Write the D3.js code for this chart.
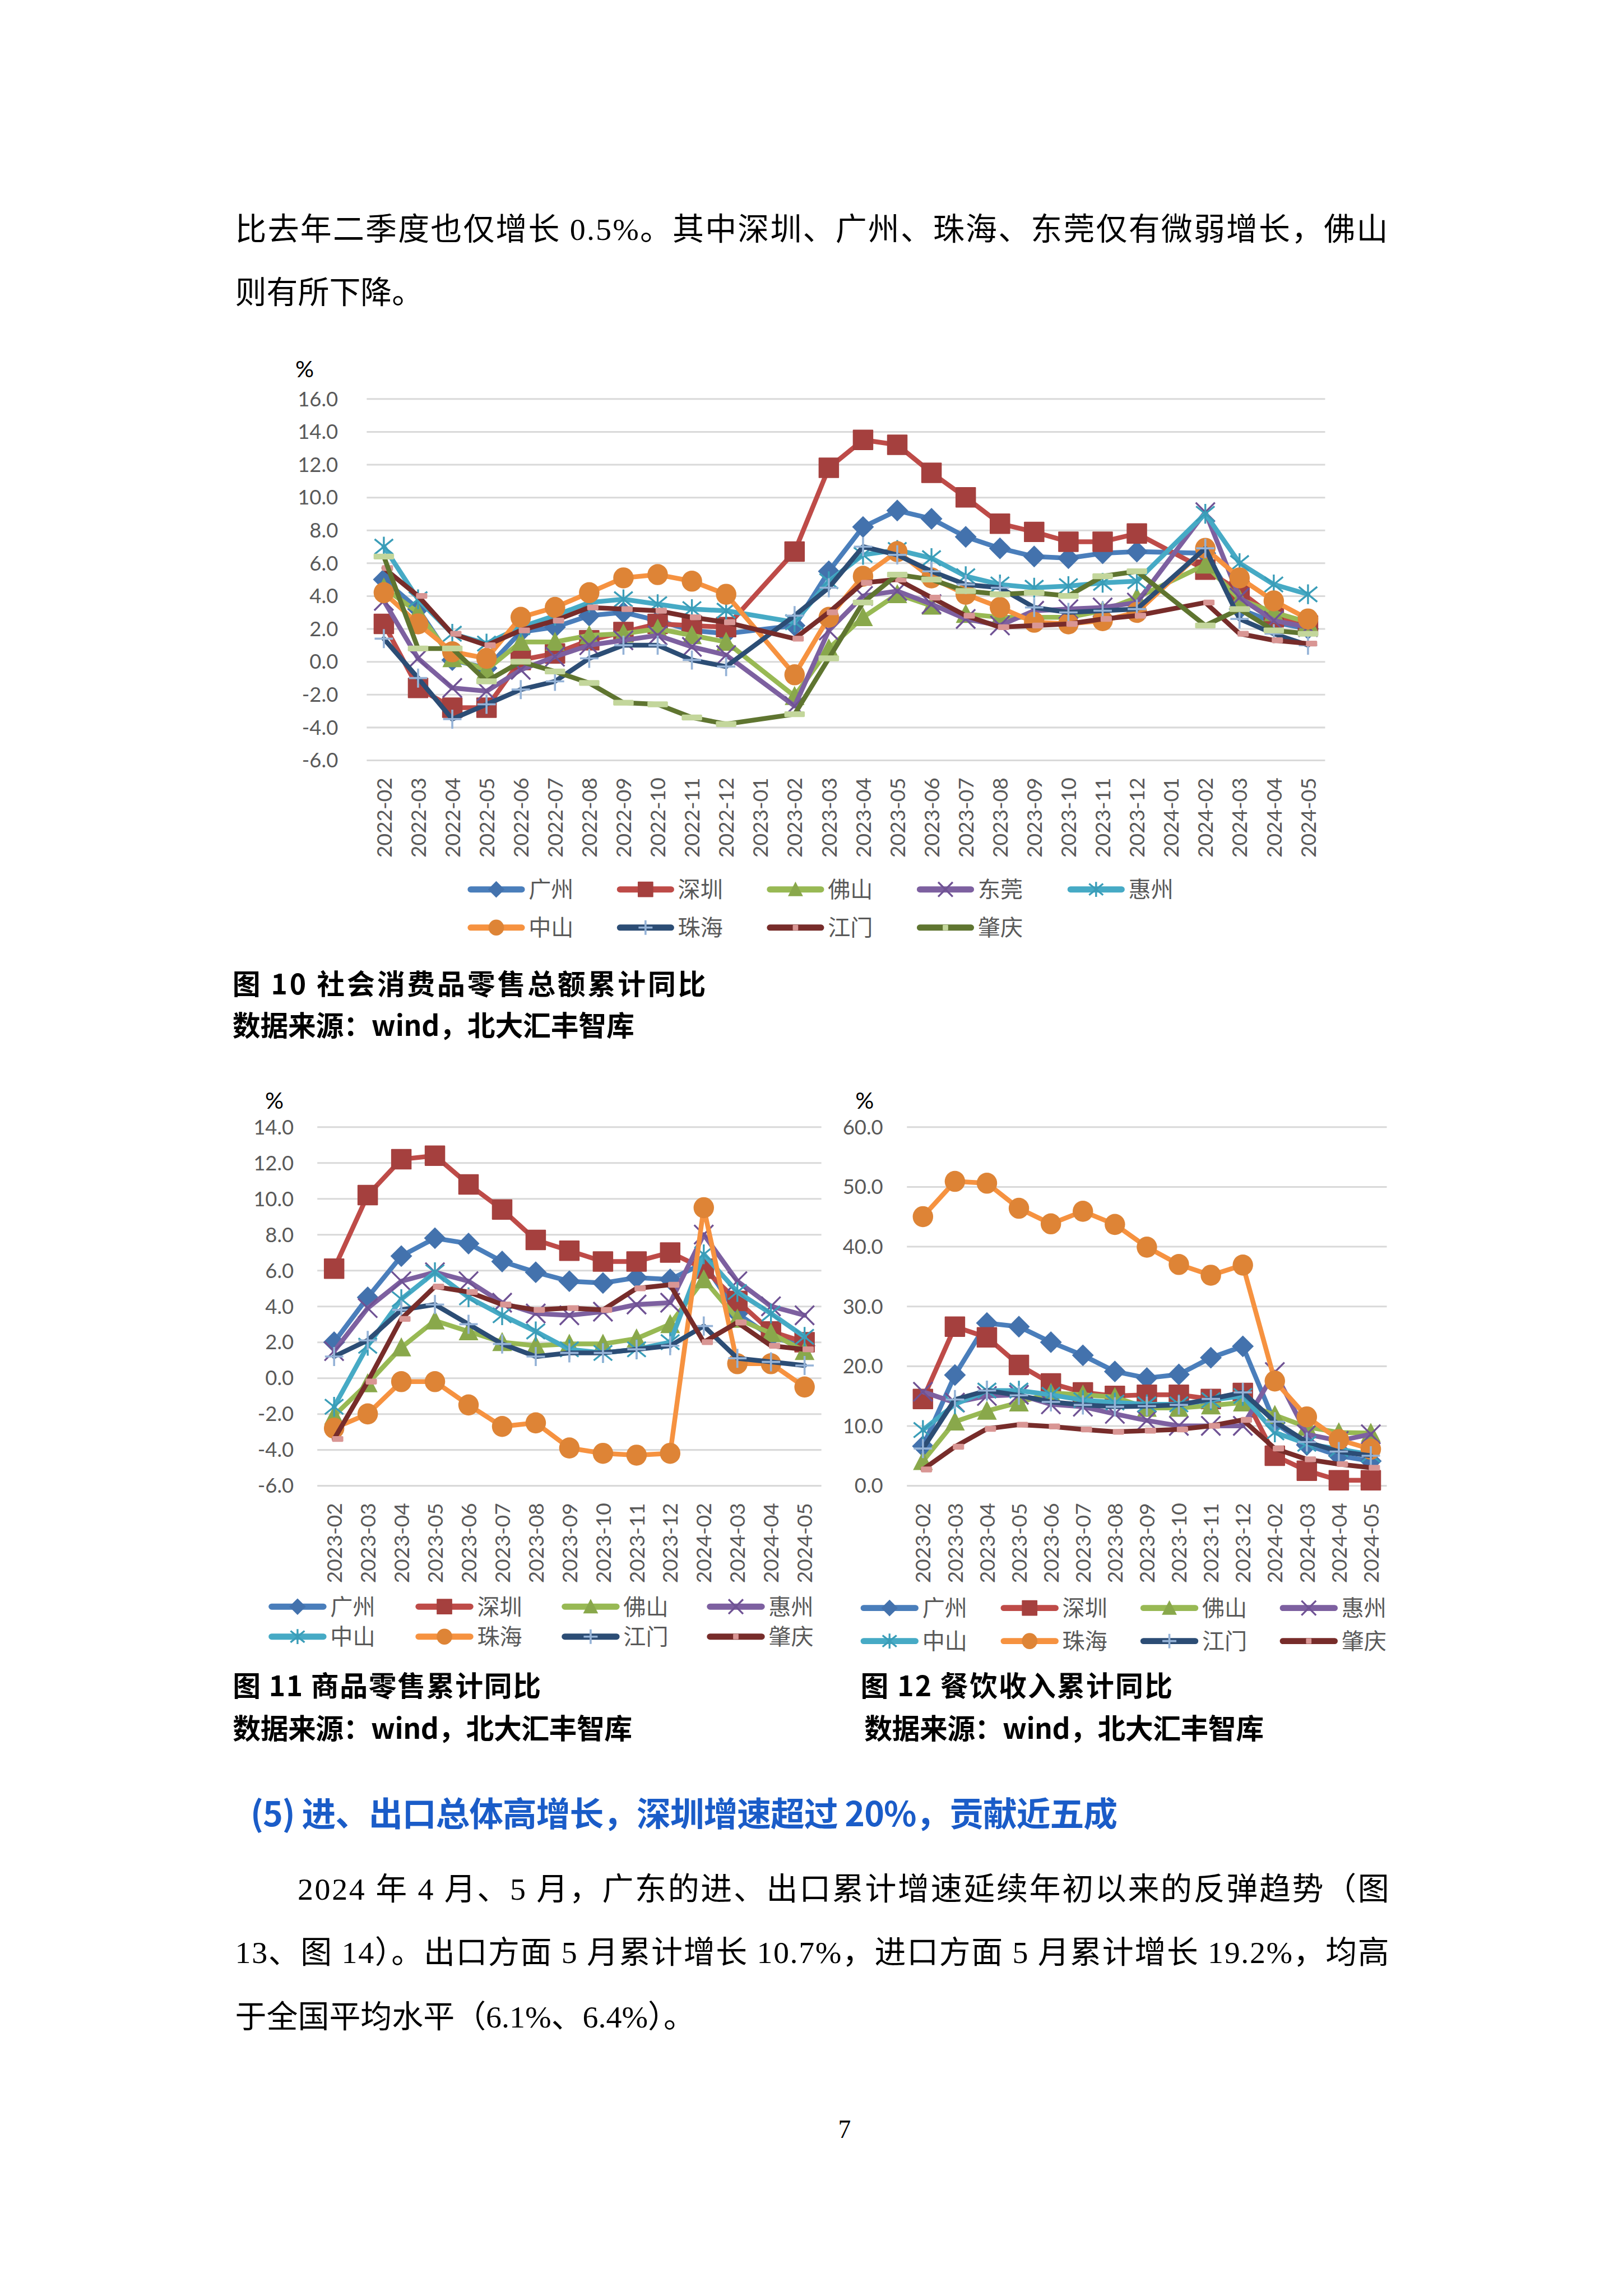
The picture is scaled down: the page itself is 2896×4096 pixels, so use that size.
<!DOCTYPE html>
<html>
<head>
<meta charset="utf-8">
<script src="https://cdn.jsdelivr.net/npm/d3@7"></script>
<style>
html,body{margin:0;padding:0;background:#ffffff;}
svg{display:block;}
</style>
</head>
<body>
<svg id="page" width="2896" height="4096"></svg>
<script>
// ---------------- DATA ----------------
// Figure 10: 社会消费品零售总额累计同比 (%), 2023-01 and 2024-01 not published
const months1 = ["2022-02","2022-03","2022-04","2022-05","2022-06","2022-07","2022-08","2022-09","2022-10","2022-11","2022-12",
  "2023-01","2023-02","2023-03","2023-04","2023-05","2023-06","2023-07","2023-08","2023-09","2023-10","2023-11","2023-12",
  "2024-01","2024-02","2024-03","2024-04","2024-05"];
const cities1 = ["广州","深圳","佛山","东莞","惠州","中山","珠海","江门","肇庆"];
const gz1 = [5.0,3.2,0.1,-0.4,1.8,2.1,2.8,3.0,2.5,1.9,1.7,null,2.2,5.5,8.2,9.2,8.7,7.6,6.9,6.4,6.3,6.6,6.7,null,6.6,3.2,2.4,2.0];
const sz1 = [2.3,-1.6,-2.8,-2.8,0.1,0.5,1.3,1.8,2.3,2.2,2.1,null,6.7,11.8,13.5,13.2,11.5,10.0,8.4,7.9,7.3,7.3,7.8,null,5.6,4.3,2.7,2.2];
const fs1 = [4.5,3.0,0.2,-0.5,1.2,1.2,1.6,1.7,2.0,1.6,1.2,null,-2.1,0.8,2.7,4.1,3.4,2.9,2.7,2.7,2.7,3.1,3.9,null,5.9,3.8,3.0,2.4];
const dg1 = [3.7,0.2,-1.6,-1.8,-0.5,0.3,1.0,1.3,1.6,0.9,0.4,null,-2.7,1.9,4.0,4.3,3.5,2.6,2.2,3.1,3.2,3.3,3.6,null,9.1,3.9,2.5,2.1];
const hz1 = [7.0,3.8,1.7,1.1,2.1,2.8,3.6,3.8,3.5,3.2,3.1,null,2.4,4.9,6.5,6.8,6.3,5.2,4.7,4.5,4.6,4.8,4.9,null,9.0,6.0,4.7,4.1];
const zs1 = [4.2,2.3,0.6,0.2,2.7,3.3,4.2,5.1,5.3,4.9,4.1,null,-0.8,2.7,5.2,6.7,5.1,4.1,3.3,2.4,2.3,2.5,3.0,null,6.9,5.1,3.7,2.6];
const zh1 = [1.4,-1.0,-3.5,-2.6,-1.7,-1.2,0.2,1.0,1.0,0.1,-0.3,null,2.8,4.5,7.0,6.5,5.5,4.7,4.5,3.3,3.0,3.1,3.2,null,6.9,2.6,1.7,1.0];
const jm1 = [5.7,4.0,1.7,1.0,1.9,2.5,3.3,3.2,3.1,2.7,2.4,null,1.4,3.0,4.8,5.0,3.9,2.8,2.1,2.2,2.3,2.6,2.8,null,3.6,1.7,1.3,1.1];
const zq1 = [6.4,0.8,0.8,-1.2,0.0,-0.6,-1.3,-2.5,-2.6,-3.4,-3.8,null,-3.2,0.2,3.6,5.3,5.0,4.3,4.1,4.2,4.0,5.2,5.5,null,2.2,3.2,1.9,1.7];
const ticks1 = [-6,-4,-2,0,2,4,6,8,10,12,14,16];

// Figures 11 & 12
const months2 = ["2023-02","2023-03","2023-04","2023-05","2023-06","2023-07","2023-08","2023-09","2023-10","2023-11","2023-12",
  "2024-02","2024-03","2024-04","2024-05"];
const cities2 = ["广州","深圳","佛山","惠州","中山","珠海","江门","肇庆"];
// Figure 11: 商品零售累计同比 (%)
const gz2 = [2.0,4.5,6.8,7.8,7.5,6.5,5.9,5.4,5.3,5.6,5.5,6.4,3.6,2.3,1.8];
const sz2 = [6.1,10.2,12.2,12.4,10.8,9.4,7.7,7.1,6.5,6.5,7.0,6.1,4.3,2.6,2.0];
const fs2 = [-2.1,-0.3,1.7,3.2,2.6,2.0,1.8,1.9,1.9,2.2,3.0,5.5,3.3,2.5,1.5];
const hz2 = [1.5,3.9,5.4,5.9,5.4,4.2,3.6,3.5,3.7,4.1,4.2,8.0,5.4,4.0,3.5];
const zs2 = [-1.6,1.8,4.4,5.9,4.5,3.5,2.6,1.6,1.4,1.6,2.0,6.9,4.8,3.6,2.3];
const zh2 = [-2.8,-2.0,-0.2,-0.2,-1.5,-2.7,-2.5,-3.9,-4.2,-4.3,-4.2,9.5,0.8,0.8,-0.5];
const jm2 = [1.2,2.1,3.8,4.1,3.0,1.9,1.2,1.4,1.4,1.6,1.8,2.9,1.1,0.9,0.7];
const zq2 = [-3.4,-0.2,3.3,5.1,4.8,4.1,3.8,3.9,3.8,5.0,5.2,2.0,3.1,1.8,1.6];
const ticks2 = [-6,-4,-2,0,2,4,6,8,10,12,14];
// Figure 12: 餐饮收入累计同比 (%)
const gz3 = [6.6,18.5,27.2,26.6,24.0,21.8,19.1,18.0,18.6,21.4,23.3,10.5,6.8,5.0,4.1];
const sz3 = [14.5,26.6,24.8,20.2,17.1,15.6,15.0,15.2,15.2,14.5,15.5,5.0,2.5,0.9,0.9];
const fs3 = [4.1,10.7,12.5,13.9,15.5,15.2,14.8,13.0,13.0,13.4,13.9,11.8,9.8,8.9,8.8];
const hz3 = [15.7,13.9,15.0,15.2,13.6,13.2,12.0,10.9,10.0,10.0,10.0,19.0,8.6,7.5,8.6];
const zs3 = [9.3,13.6,15.9,15.9,15.2,14.3,13.9,13.6,13.6,14.3,15.0,8.9,7.0,6.1,5.2];
const zh3 = [45.0,50.9,50.6,46.4,43.8,45.9,43.7,39.9,37.0,35.2,36.9,17.5,11.5,7.7,6.1];
const jm3 = [6.2,14.4,15.9,15.1,14.0,13.5,13.2,13.3,13.5,14.5,15.6,10.7,7.3,5.7,5.0];
const zq3 = [2.7,6.5,9.5,10.2,9.9,9.4,9.0,9.2,9.4,10.0,11.0,6.2,4.4,3.6,3.0];
const ticks3 = [0,10,20,30,40,50,60];

// ---------------- STYLE ----------------
const STY = [
  {line:"#4A7EBB", mk:"#4372AD", shape:"diamond"},
  {line:"#BE4B48", mk:"#A5403E", shape:"square"},
  {line:"#98B954", mk:"#89A84B", shape:"triangle"},
  {line:"#7D60A0", mk:"#6F5294", shape:"xmark"},
  {line:"#46AAC5", mk:"#3A9DB8", shape:"asterisk"},
  {line:"#F69240", mk:"#DE8436", shape:"circle"},
  {line:"#2C4D75", mk:"#95B3D7", shape:"plus"},
  {line:"#772C2A", mk:"#D99694", shape:"dashShort"},
  {line:"#5F7530", mk:"#C3D69B", shape:"dashLong"}
];
const FNUM = "Lato, 'Noto Sans', sans-serif";
const FCJK = "'Noto Sans CJK SC', 'Noto Sans', sans-serif";
const FBODY = "'Liberation Serif', 'Noto Sans CJK SC', serif";
const S = 2896 / 4762;

const svg = d3.select("#page");
svg.append("rect").attr("width",2896).attr("height",4096).attr("fill","#ffffff");
const root = svg.append("g").attr("transform", `scale(${S})`);

function drawMarker(g, shape, color, k) {
  // k = scale (1 for plot, ~0.77 for legend)
  const h = 30 * k;
  switch (shape) {
    case "diamond":
      g.append("path").attr("d", `M0,${-32*k}L${32*k},0L0,${32*k}L${-32*k},0Z`).attr("fill", color);
      break;
    case "square":
      g.append("rect").attr("x",-h).attr("y",-h).attr("width",2*h).attr("height",2*h).attr("rx",2*k).attr("fill",color);
      break;
    case "triangle":
      g.append("path").attr("d", `M0,${-30*k}L${29*k},${26*k}L${-29*k},${26*k}Z`).attr("fill", color);
      break;
    case "circle":
      g.append("ellipse").attr("rx",h).attr("ry",h*1.03).attr("fill",color);
      break;
    case "xmark":
      g.append("path").attr("d", `M${-28*k},${-28*k}L${28*k},${28*k}M${28*k},${-28*k}L${-28*k},${28*k}`)
        .attr("stroke",color).attr("stroke-width",5.5).attr("fill","none");
      break;
    case "asterisk":
      g.append("path").attr("d", `M${-27*k},${-22*k}L${27*k},${22*k}M${27*k},${-22*k}L${-27*k},${22*k}M0,${-29*k}L0,${29*k}`)
        .attr("stroke",color).attr("stroke-width",5.5).attr("fill","none");
      break;
    case "plus":
      g.append("path").attr("d", `M${-27*k},0L${27*k},0M0,${-28*k}L0,${28*k}`)
        .attr("stroke",color).attr("stroke-width",6).attr("fill","none");
      break;
    case "dashShort":
      g.append("rect").attr("x",-6).attr("y",-8.5).attr("width",33).attr("height",17).attr("rx",3).attr("fill",color);
      break;
    case "dashLong":
      g.append("rect").attr("x",-30).attr("y",-8.5).attr("width",60).attr("height",17).attr("rx",3).attr("fill",color);
      break;
  }
}

function drawChart(cfg) {
  const g = root.append("g");
  const x = d3.scalePoint().domain(cfg.months).range([cfg.x0, cfg.x1]).padding(0.5);
  const y = d3.scaleLinear().domain(cfg.domain).range([cfg.yBot, cfg.yTop]);

  // y axis + gridlines
  const ya = g.append("g").attr("transform", `translate(${cfg.x0},0)`)
    .call(d3.axisLeft(y).tickValues(cfg.ticks).tickSize(-(cfg.x1 - cfg.x0))
      .tickPadding(cfg.x0 - cfg.labelRight).tickFormat(d => d.toFixed(1)));
  ya.select(".domain").remove();
  ya.selectAll(".tick line").attr("stroke", "#D9D9D9").attr("stroke-width", 5);
  ya.selectAll(".tick text").attr("fill", "#595959").attr("font-family", FNUM).attr("font-size", 60).attr("dy", "0.35em");

  // x axis labels (rotated)
  const xa = g.append("g").attr("transform", `translate(0,${cfg.xLabelTop})`)
    .call(d3.axisBottom(x).tickSize(0).tickPadding(0));
  xa.select(".domain").remove();
  xa.selectAll(".tick text").attr("fill", "#595959").attr("font-family", FNUM).attr("font-size", 61)
    .attr("x", 0).attr("y", 0).attr("dy", "0.36em").attr("text-anchor", "end").attr("transform", "rotate(-90)");

  // % unit
  g.append("text").attr("x", cfg.pct[0]).attr("y", cfg.pct[1]).attr("text-anchor", "middle").attr("dy", "0.36em")
    .attr("font-family", FNUM).attr("font-size", 68).attr("fill", "#000").text("%");

  // series
  const line = d3.line().x(d => x(d.m)).y(d => y(d.v)).curve(d3.curveLinear);
  cfg.series.forEach((s, i) => {
    const st = STY[cfg.styleIdx[i]];
    const pts = cfg.months.map((m, j) => ({m: m, v: s[j]})).filter(d => d.v !== null);
    const sg = g.append("g");
    sg.append("path").datum(pts).attr("d", line).attr("fill", "none").attr("stroke", st.line)
      .attr("stroke-width", 14).attr("stroke-linejoin", "round").attr("stroke-linecap", "round");
    pts.forEach(d => {
      const mg = sg.append("g").attr("transform", `translate(${x(d.m)},${y(d.v)})`);
      drawMarker(mg, st.shape, st.mk, 1);
    });
  });

  // legend
  cfg.names.forEach((nm, i) => {
    const st = STY[cfg.styleIdx[i]];
    const row = i < cfg.perRow ? 0 : 1;
    const col = i < cfg.perRow ? i : i - cfg.perRow;
    const lx = cfg.legX[col], ly = cfg.legY[row];
    const lg = g.append("g").attr("transform", `translate(${lx},${ly})`);
    lg.append("line").attr("x1", 9).attr("x2", cfg.legLen - 9).attr("y1", 0).attr("y2", 0)
      .attr("stroke", st.line).attr("stroke-width", 18).attr("stroke-linecap", "round");
    const mg = lg.append("g").attr("transform", `translate(${cfg.legLen / 2},0)`);
    if (st.shape === "dashShort" || st.shape === "dashLong") {
      mg.append("rect").attr("x", -8).attr("y", -8).attr("width", 16).attr("height", 16).attr("rx", 2).attr("fill", st.mk);
    } else {
      drawMarker(mg, st.shape, st.mk, 0.76);
    }
    lg.append("text").attr("x", cfg.legLen + 11).attr("y", 0).attr("dy", "0.36em")
      .attr("font-family", FCJK).attr("font-size", 66).attr("fill", "#595959").text(nm);
  });
}

drawChart({
  months: months1, domain: [-6, 16], ticks: ticks1,
  x0: 1076, x1: 3888, yTop: 1170, yBot: 2230, labelRight: 992, xLabelTop: 2281, pct: [894, 1082],
  series: [gz1, sz1, fs1, dg1, hz1, zs1, zh1, jm1, zq1], names: cities1, styleIdx: [0,1,2,3,4,5,6,7,8],
  perRow: 5, legX: [1372, 1810, 2250, 2690, 3132], legY: [2609, 2721], legLen: 168
});
drawChart({
  months: months2, domain: [-6, 14], ticks: ticks2,
  x0: 931, x1: 2410, yTop: 3306, yBot: 4358, labelRight: 862, xLabelTop: 4409, pct: [805, 3228],
  series: [gz2, sz2, fs2, hz2, zs2, zh2, jm2, zq2], names: cities2, styleIdx: [0,1,2,3,4,5,6,7],
  perRow: 4, legX: [788, 1219, 1648, 2074], legY: [4713, 4801], legLen: 170
});
drawChart({
  months: months2, domain: [0, 60], ticks: ticks3,
  x0: 2661, x1: 4069, yTop: 3306, yBot: 4358, labelRight: 2591, xLabelTop: 4409, pct: [2537, 3228],
  series: [gz3, sz3, fs3, hz3, zs3, zh3, jm3, zq3], names: cities2, styleIdx: [0,1,2,3,4,5,6,7],
  perRow: 4, legX: [2525, 2936, 3346, 3755], legY: [4717, 4814], legLen: 170
});

// ---------------- PAGE TEXT ----------------
function txt(s, x, y, opt) {
  const t = root.append("text").attr("x", x).attr("y", y).attr("dy", "0.36em")
    .attr("font-family", opt.font).attr("font-size", opt.size).attr("fill", opt.fill || "#000")
    .attr("font-weight", opt.weight || 400).text(s);
  if (opt.len) t.attr("textLength", opt.len).attr("lengthAdjust", "spacing");
  if (opt.anchor) t.attr("text-anchor", opt.anchor);
  return t;
}
txt("比去年二季度也仅增长 0.5%。其中深圳、广州、珠海、东莞仅有微弱增长，佛山", 690, 670, {font: FBODY, size: 92, len: 3382});
txt("则有所下降。", 690, 857, {font: FBODY, size: 92});

txt("图 10  社会消费品零售总额累计同比", 682, 2888, {font: FCJK, size: 82, weight: 700, len: 1389});
txt("数据来源：wind，北大汇丰智库", 682, 3010, {font: FCJK, size: 82, weight: 700, len: 1179});

txt("图 11 商品零售累计同比", 683, 4947, {font: FCJK, size: 82, weight: 700, len: 904});
txt("数据来源：wind，北大汇丰智库", 683, 5072, {font: FCJK, size: 82, weight: 700, len: 1172});
txt("图 12 餐饮收入累计同比", 2525, 4947, {font: FCJK, size: 82, weight: 700, len: 915});
txt("数据来源：wind，北大汇丰智库", 2536, 5072, {font: FCJK, size: 82, weight: 700, len: 1172});

txt("(5) 进、出口总体高增长，深圳增速超过 20%，贡献近五成", 735, 5322, {font: FCJK, size: 100, weight: 700, fill: "#1A5CC8", len: 2544});

txt("2024 年 4 月、5 月，广东的进、出口累计增速延续年初以来的反弹趋势（图", 873, 5540, {font: FBODY, size: 92, len: 3203});
txt("13、图 14）。出口方面 5 月累计增长 10.7%，进口方面 5 月累计增长 19.2%，均高", 690, 5725, {font: FBODY, size: 92, len: 3386});
txt("于全国平均水平（6.1%、6.4%）。", 690, 5914, {font: FBODY, size: 92});

root.append("text").attr("x", 2478).attr("y", 6272).attr("text-anchor", "middle")
  .attr("font-family", "'Liberation Serif', serif").attr("font-size", 75).attr("fill", "#000").text("7");
</script>
</body>
</html>
